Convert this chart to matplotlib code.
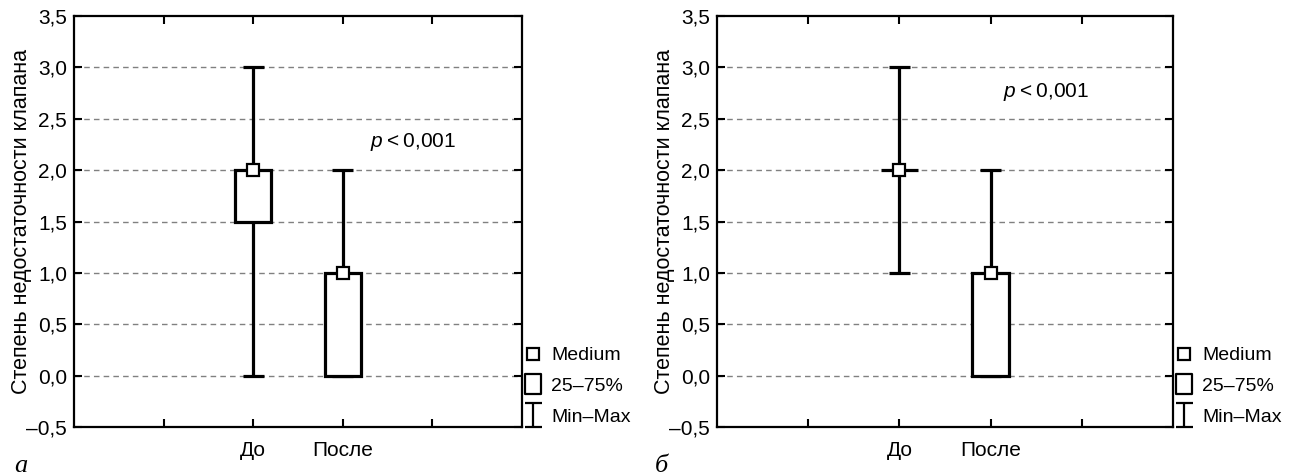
import matplotlib
matplotlib.use("Agg")
import matplotlib.pyplot as plt
from matplotlib.path import Path
from matplotlib.lines import Line2D

plt.rcParams['font.family'] = ['Liberation Sans', 'DejaVu Sans']
plt.rcParams['mathtext.fontset'] = 'custom'
plt.rcParams['mathtext.rm'] = 'Liberation Sans'
plt.rcParams['mathtext.it'] = 'Liberation Sans:italic'

# ---- data ----
categories = ["До", "После"]
cat_pos = [1, 2]
# panel а
a_median = [2.0, 1.0]
a_q1 = [1.5, 0.0]
a_q3 = [2.0, 1.0]
a_min = [0.0, 0.0]
a_max = [3.0, 2.0]
# panel б
b_median = [2.0, 1.0]
b_q1 = [2.0, 0.0]
b_q3 = [2.0, 1.0]
b_min = [1.0, 0.0]
b_max = [3.0, 2.0]

y_ticks = [-0.5, 0.0, 0.5, 1.0, 1.5, 2.0, 2.5, 3.0, 3.5]
y_ticklabels = ["\u20130,5", "0,0", "0,5", "1,0", "1,5", "2,0", "2,5", "3,0", "3,5"]
grid_levels = [0.0, 0.5, 1.0, 1.5, 2.0, 2.5, 3.0]
x_ticks = [0, 1, 2, 3]
ylabel = "Степень недостаточности клапана"
legend_labels = ["Medium", "25\u201375%", "Min\u2013Max"]
p_text = r"$p$" + "\u2009<\u20090,001"

FS = 15
LW = 2.3

fig = plt.figure(figsize=(12.9, 4.76), dpi=100)
ax_a = fig.add_axes([74 / 1290, 49 / 476, 448 / 1290, 411 / 476])
ax_b = fig.add_axes([717 / 1290, 49 / 476, 456 / 1290, 411 / 476])

# legend marker paths
rect_path = Path([(-0.4, -0.5), (0.4, -0.5), (0.4, 0.5), (-0.4, 0.5), (-0.4, -0.5)],
                 [Path.MOVETO, Path.LINETO, Path.LINETO, Path.LINETO, Path.CLOSEPOLY])
ibeam_path = Path([(-0.36, -0.5), (0.36, -0.5), (0, -0.5), (0, 0.5), (-0.36, 0.5), (0.36, 0.5)],
                  [Path.MOVETO, Path.LINETO, Path.MOVETO, Path.LINETO, Path.MOVETO, Path.LINETO])


def draw(ax, med, q1, q3, mn, mx, p_xy):
    box_w = 0.4
    cap_w = 0.23
    for x, m, lo, hi, a, b in zip(cat_pos, med, q1, q3, mn, mx):
        ax.vlines(x, a, b, color='black', lw=LW, zorder=3)
        ax.hlines([a, b], x - cap_w / 2, x + cap_w / 2, color='black', lw=LW, zorder=3)
        ax.bar(x, hi - lo, bottom=lo, width=box_w, facecolor='white',
               edgecolor='black', linewidth=LW, zorder=4)
        ax.plot(x, m, marker='s', markersize=8, markerfacecolor='white',
                markeredgecolor='black', markeredgewidth=1.6, zorder=5)
    ax.set_xlim(-1, 4)
    ax.set_ylim(-0.5, 3.5)
    ax.set_yticks(y_ticks)
    ax.set_yticklabels(y_ticklabels)
    ax.set_xticks(x_ticks)
    ax.set_xticklabels(["", categories[0], categories[1], ""])
    for g in grid_levels:
        ax.axhline(g, color='#808080', lw=1.0, ls=(0, (4, 3)), zorder=1)
    ax.tick_params(direction='in', top=True, right=True, length=6, width=1.5,
                   labelsize=FS, pad=5)
    ax.tick_params(axis='x', pad=10)
    for s in ax.spines.values():
        s.set_linewidth(1.6)
    ax.set_ylabel(ylabel, fontsize=FS + 0.5, labelpad=-4)
    ax.text(p_xy[0], p_xy[1], p_text, fontsize=FS, va='center', ha='left')
    handles = [
        Line2D([], [], ls='none', marker='s', markersize=8, markerfacecolor='white',
               markeredgecolor='black', markeredgewidth=1.6),
        Line2D([], [], ls='none', marker=rect_path, markersize=15, markerfacecolor='none',
               markeredgecolor='black', markeredgewidth=1.6),
        Line2D([], [], ls='none', marker=ibeam_path, markersize=17, markerfacecolor='none',
               markeredgecolor='black', markeredgewidth=1.6),
    ]
    ax.legend(handles, legend_labels, loc='lower left', bbox_to_anchor=(1.0, 0.0),
              frameon=False, fontsize=FS - 1, handlelength=1.0, handletextpad=0.45,
              labelspacing=0.68, borderpad=0.0, borderaxespad=0.05)


draw(ax_a, a_median, a_q1, a_q3, a_min, a_max, (2.3, 2.27))
draw(ax_b, b_median, b_q1, b_q3, b_min, b_max, (2.14, 2.76))

fig.text(14 / 1290, 4 / 476, "а", fontsize=19, family='Liberation Serif', style='italic')
fig.text(655 / 1290, 4 / 476, "б", fontsize=19, family='Liberation Serif', style='italic')

fig.savefig("out.png", dpi=100)
